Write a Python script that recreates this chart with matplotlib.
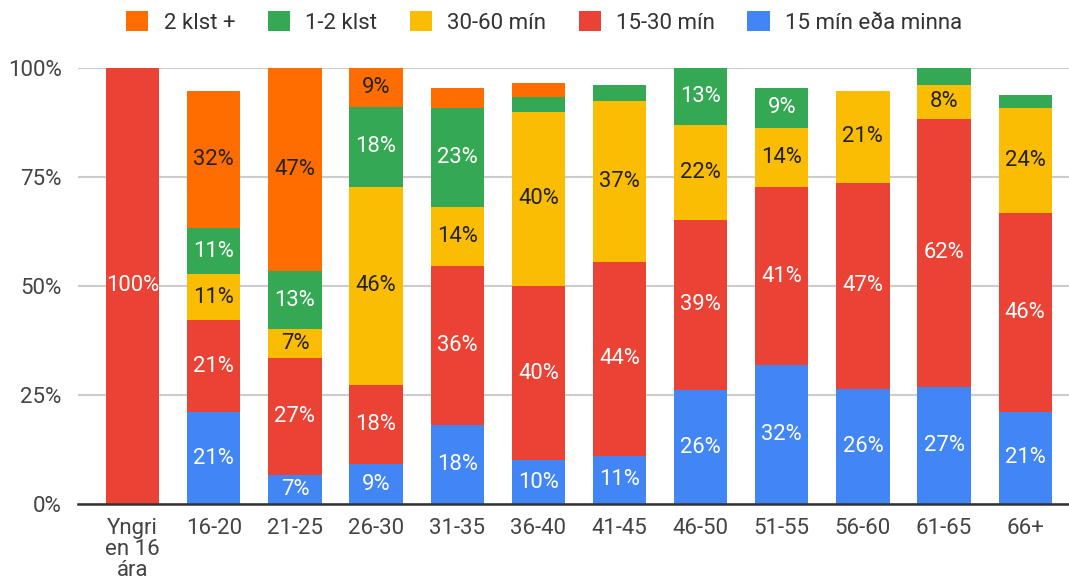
import numpy as np
import matplotlib
matplotlib.use('Agg')
import matplotlib.pyplot as plt
from matplotlib.patches import Patch

plt.rcParams['font.family'] = ['Roboto', 'DejaVu Sans']

categories = ['Yngri\nen 16\nára', '16-20', '21-25', '26-30', '31-35', '36-40',
              '41-45', '46-50', '51-55', '56-60', '61-65', '66+']

# hlutföll í prósentum, lesin af myndinni
blue = [0, 21.1, 6.7, 9.1, 18.2, 10.0, 11.1, 26.1, 31.8, 26.3, 26.9, 21.2]
red = [100, 21.1, 26.7, 18.2, 36.4, 40.0, 44.4, 39.1, 40.9, 47.4, 61.5, 45.5]
yellow = [0, 10.5, 6.7, 45.5, 13.6, 40.0, 37.0, 21.7, 13.6, 21.1, 7.7, 24.2]
green = [0, 10.5, 13.3, 18.2, 22.7, 3.3, 3.7, 13.0, 9.1, 0, 3.8, 3.0]
orange = [0, 31.6, 46.7, 9.1, 4.5, 3.3, 0, 0, 0, 0, 0, 0]

series_names = ['15 mín eða minna', '15-30 mín', '30-60 mín', '1-2 klst', '2 klst +']
series_vals = [blue, red, yellow, green, orange]
colors = ['#4285F4', '#EA4335', '#FBBC04', '#34A853', '#FF6D01']
text_colors = ['white', 'white', '#222222', 'white', '#222222']

fig = plt.figure(figsize=(10.69, 5.83), dpi=100)
ax = fig.add_axes([78.3 / 1069, 1 - 504 / 583, 1 - 78.3 / 1069, (504 - 68) / 583])

x = np.arange(len(categories))
bottom = np.zeros(len(categories))
for name, vals, col, tcol in zip(series_names, series_vals, colors, text_colors):
    vals = np.array(vals, dtype=float)
    ax.bar(x, vals, bottom=bottom, width=0.657, color=col, label=name, zorder=3)
    for xi, b, v in zip(x, bottom, vals):
        if v >= 5:
            ax.text(xi, b + v / 2, f'{int(v + 0.5)}%', ha='center', va='center',
                    color=tcol, fontsize=15.8, zorder=4)
    bottom += vals

ax.set_xlim(-0.67, 11.54)
ax.set_ylim(0, 100)
ax.set_yticks([0, 25, 50, 75, 100])
ax.set_yticklabels(['0%', '25%', '50%', '75%', '100%'])
ax.set_xticks(x)
ax.set_xticklabels(categories, linespacing=1.0)
ax.tick_params(axis='both', length=0, labelsize=16, colors='#444444')
ax.tick_params(axis='y', pad=12)
ax.tick_params(axis='x', pad=10)
ax.grid(axis='y', color='#cccccc', linewidth=1.5, zorder=0)
for s in ['top', 'right', 'left']:
    ax.spines[s].set_visible(False)
ax.spines['bottom'].set_color('#333333')
ax.spines['bottom'].set_linewidth(1.8)
ax.spines['bottom'].set_zorder(5)

handles = [Patch(facecolor=c, label=n) for c, n in zip(colors[::-1], series_names[::-1])]
fig.legend(handles=handles, loc='upper center', bbox_to_anchor=(0.509, 1.0), ncol=5,
           frameon=False, fontsize=16, handlelength=1.0, handleheight=1.0,
           handletextpad=0.7, columnspacing=1.45, labelcolor='#333333',
           borderaxespad=0.1)

fig.savefig('out.png', dpi=100, facecolor='white')
